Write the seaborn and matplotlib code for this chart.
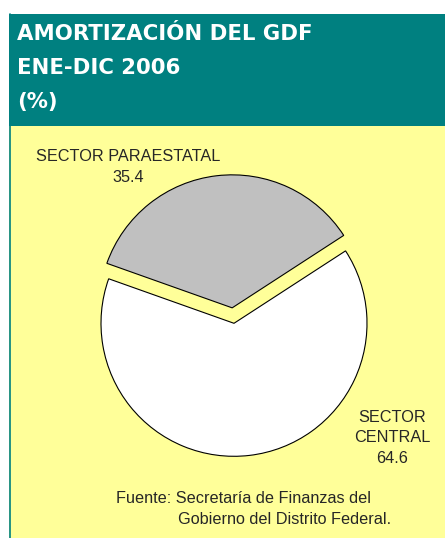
import matplotlib
matplotlib.use("Agg")
from matplotlib import pyplot as plt
from matplotlib.patches import Rectangle
import seaborn as sns

sns.set_style("white")
plt.rcParams["font.family"] = ["Liberation Sans", "DejaVu Sans"]

# data
sectores = ["SECTOR PARAESTATAL", "SECTOR CENTRAL"]
porcentajes = [35.4, 64.6]
colores = ["#C0C0C0", "#FFFFFF"]
separacion = [0.117, 0.0]

titulo = ["AMORTIZACIÓN DEL GDF", "ENE-DIC 2006", "(%)"]
fuente = ["Fuente: Secretaría de Finanzas del", "Gobierno del Distrito Federal."]

W, H = 445, 538
fig = plt.figure(figsize=(W / 100, H / 100), dpi=100)
fig.patch.set_facecolor("white")

def fx(px):
    return px / W

def fy(py):
    return 1 - py / H

# background panels
teal = "#008080"
fig.patches.append(Rectangle((fx(9), fy(126)), 1 - fx(9), fy(14) - fy(126),
                             transform=fig.transFigure, facecolor=teal, edgecolor="none", zorder=-2))
fig.patches.append(Rectangle((fx(9), 0), 1 - fx(9), fy(126),
                             transform=fig.transFigure, facecolor="#FFFF99", edgecolor="none", zorder=-2))
fig.lines.append(plt.Line2D([fx(9.5), fx(9.5)], [0, fy(14)], transform=fig.transFigure,
                            color=teal, lw=1.2, zorder=-1))

# titles
for txt, base in zip(titulo, [40, 74.5, 108]):
    fig.text(fx(17), fy(base), txt, color="white", fontsize=15.3, fontweight="bold",
             family="DejaVu Sans", ha="left", va="baseline")

# pie
cx, cy, r = 234, 323.3, 133
L = 1.2
side = 2 * r * L
ax = fig.add_axes([fx(cx - side / 2), fy(cy + side / 2), side / W, side / H])
ax.pie(porcentajes, colors=colores, explode=separacion, startangle=33, counterclock=True,
       wedgeprops={"edgecolor": "black", "linewidth": 0.8})
ax.set_xlim(-L, L)
ax.set_ylim(-L, L)
ax.set_aspect("auto")
ax.axis("off")
ax.patch.set_alpha(0)

fs = 11.7
# label paraestatal
fig.text(fx(128), fy(161), sectores[0], fontsize=fs, ha="center", va="baseline")
fig.text(fx(128), fy(181.7), f"{porcentajes[0]:.1f}", fontsize=fs, ha="center", va="baseline")
# label central
for txt, base in zip(sectores[1].split() + [f"{porcentajes[1]:.1f}"], [421.5, 442.3, 463.3]):
    fig.text(fx(392), fy(base), txt, fontsize=fs, ha="center", va="baseline")

# source
fig.text(fx(116), fy(502.7), fuente[0], fontsize=fs, ha="left", va="baseline")
fig.text(fx(178), fy(524), fuente[1], fontsize=fs, ha="left", va="baseline")

plt.savefig("out.png", dpi=100)
